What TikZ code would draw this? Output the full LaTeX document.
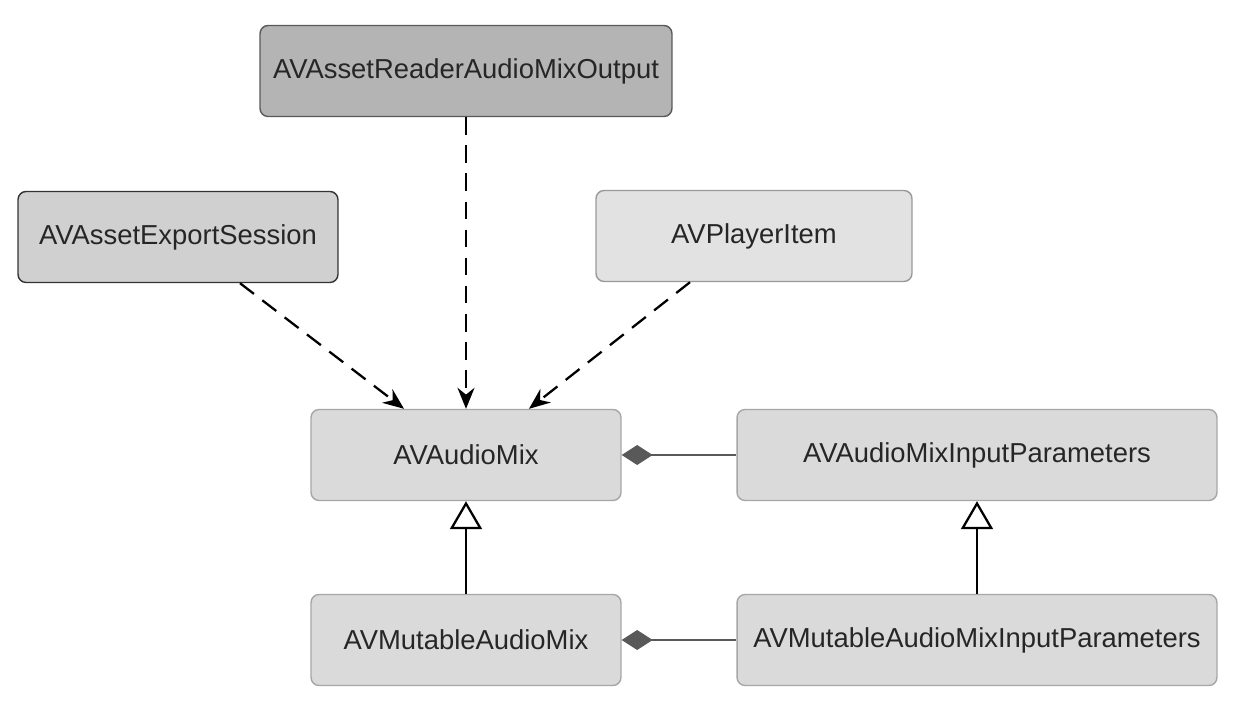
\documentclass[tikz,border=0pt]{standalone}
\usepackage{fontspec}
\setmainfont{Liberation Sans}
\usepackage{xcolor}
\usetikzlibrary{arrows.meta}

\definecolor{boxdark}{HTML}{B4B4B4}
\definecolor{boxmid}{HTML}{D0D0D0}
\definecolor{boxlight}{HTML}{E2E2E2}
\definecolor{boxplain}{HTML}{DADADA}

\begin{document}
\begin{tikzpicture}[x=0.02cm,y=-0.02cm,
    cls/.style={draw=black!35, rectangle, rounded corners=0.16cm, fill=boxplain,
      line width=0.8pt, minimum height=1.82cm, text=black!85,
      font=\fontsize{15.6}{18}\selectfont},
    uses/.style={draw, line width=1.3pt, dash pattern=on 10pt off 6pt, -{Stealth[length=0.42cm,width=0.34cm]}},
    extends/.style={draw, line width=1.3pt, -{Triangle[open,fill=white,length=0.56cm,width=0.64cm]}},
    owns/.style={draw=black!65, line width=1.2pt, -{Diamond[fill=black!65,length=0.62cm,width=0.4cm]}}]
    \useasboundingbox (0,0) rectangle (1238,702);

    % Clients de l'audio mix
    \node (reader) [cls, fill=boxdark, draw=black!65, minimum width=8.24cm] at (466,71) {AVAssetReaderAudioMixOutput};
    \node (export) [cls, fill=boxmid, draw=black!80, minimum width=6.4cm] at (178,237) {AVAssetExportSession};
    \node (player) [cls, fill=boxlight, draw=black!40, minimum width=6.32cm] at (754,236) {AVPlayerItem};

    % Classes et parametres
    \node (mix)       [cls, minimum width=6.2cm] at (466,455) {AVAudioMix};
    \node (params)    [cls, minimum width=9.6cm] at (977,455) {AVAudioMixInputParameters};
    \node (mutmix)    [cls, minimum width=6.2cm] at (466,640) {AVMutableAudioMix};
    \node (mutparams) [cls, minimum width=9.6cm] at (977,640) {AVMutableAudioMixInputParameters};

    % Fleches
    \draw[uses] ([xshift=1.24cm]export.south) -- ([xshift=-1.24cm]mix.north);
    \draw[uses] (reader.south) -- (mix.north);
    \draw[uses] ([xshift=-1.28cm]player.south) -- ([xshift=1.26cm]mix.north);

    \draw[extends] (mutmix) -- (mix);
    \draw[extends] (mutparams) -- (params);

    \draw[owns] (params) -- (mix);
    \draw[owns] (mutparams) -- (mutmix);
\end{tikzpicture}
\end{document}
